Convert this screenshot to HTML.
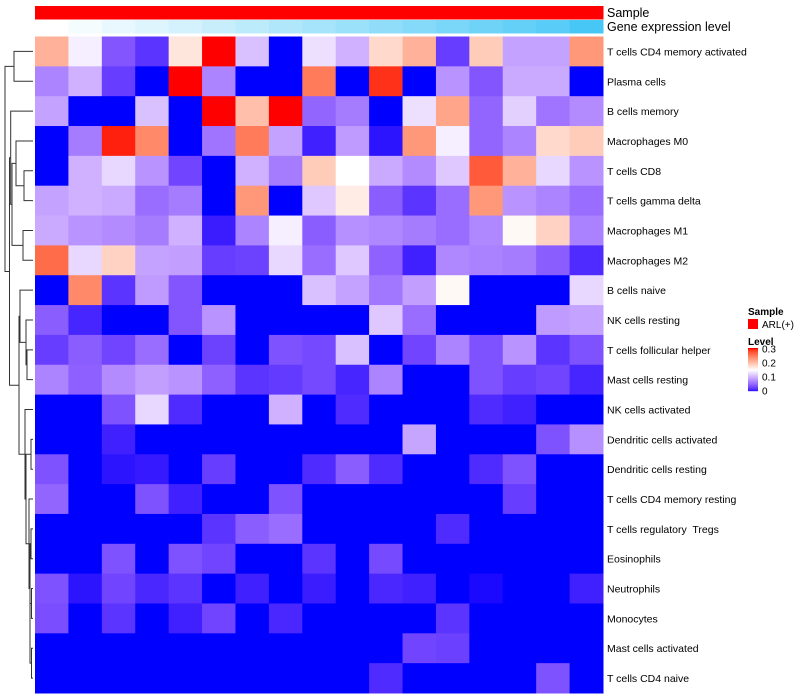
<!DOCTYPE html>
<html><head><meta charset="utf-8">
<style>
html,body{margin:0;padding:0;background:#fff;}
svg{display:block;font-family:"Liberation Sans",sans-serif;}
#rowlabels text{white-space:pre;}
</style></head>
<body>
<svg id="chart" width="800" height="700" viewBox="0 0 800 700" xmlns="http://www.w3.org/2000/svg">
  <g id="dendro"></g>
  <g id="annot"></g>
  <g id="cells"></g>
  <g id="rowlabels"></g>
  <text x="607" y="17" font-size="12.5" fill="#000">Sample</text>
  <text x="607" y="31" font-size="12.5" fill="#000">Gene expression level</text>
  <g>
    <text x="748" y="315" font-size="10" font-weight="bold">Sample</text>
    <rect x="748" y="319" width="10" height="10" fill="#ff0000"></rect>
    <text x="762" y="328" font-size="10">ARL(+)</text>
    <text x="748" y="345" font-size="10" font-weight="bold">Level</text>
    <g id="levelbar"></g>
  </g>
</svg>
<script>
const rowNames = ["T cells CD4 memory activated","Plasma cells","B cells memory","Macrophages M0","T cells CD8","T cells gamma delta","Macrophages M1","Macrophages M2","B cells naive","NK cells resting","T cells follicular helper","Mast cells resting","NK cells activated","Dendritic cells activated","Dendritic cells resting","T cells CD4 memory resting","T cells regulatory  Tregs","Eosinophils","Neutrophils","Monocytes","Mast cells activated","T cells CD4 naive"];
const values = [
 [0.21,0.14,0.04,0.02,0.17,0.30,0.11,0,0.13,0.10,0.18,0.21,0.025,0.19,0.09,0.09,0.23],
 [0.07,0.10,0.025,0,0.30,0.07,0,0,0.25,0,0.29,0,0.08,0.04,0.095,0.095,0],
 [0.09,0,0,0.11,0,0.30,0.20,0.30,0.05,0.065,0,0.13,0.22,0.05,0.12,0.06,0.075],
 [0,0.065,0.295,0.24,0,0.06,0.25,0.09,0.01,0.085,0.005,0.23,0.14,0.05,0.07,0.18,0.19],
 [0,0.10,0.125,0.08,0.03,0,0.10,0.065,0.19,0.15,0.095,0.075,0.115,0.27,0.21,0.125,0.08],
 [0.09,0.10,0.095,0.055,0.065,0,0.23,0,0.115,0.165,0.045,0.02,0.055,0.23,0.08,0.07,0.055],
 [0.095,0.08,0.075,0.065,0.10,0.008,0.07,0.14,0.045,0.078,0.072,0.065,0.055,0.072,0.155,0.185,0.068],
 [0.26,0.125,0.185,0.09,0.088,0.025,0.028,0.125,0.055,0.115,0.048,0.01,0.072,0.068,0.065,0.045,0.015],
 [0,0.24,0.02,0.085,0.04,0,0,0,0.11,0.09,0.062,0.088,0.155,0,0,0,0.125],
 [0.045,0.012,0,0,0.04,0.08,0,0,0,0,0.115,0.055,0,0,0,0.085,0.09],
 [0.025,0.045,0.03,0.055,0,0.028,0,0.038,0.032,0.11,0,0.03,0.07,0.038,0.08,0.02,0.038],
 [0.07,0.047,0.075,0.088,0.08,0.047,0.02,0.023,0.032,0.012,0.07,0,0,0.038,0.025,0.03,0.012],
 [0,0,0.038,0.125,0.015,0,0,0.10,0,0.015,0,0,0,0.015,0.01,0,0],
 [0,0,0.01,0,0,0,0,0,0,0,0,0.092,0,0,0,0.038,0.078],
 [0.038,0,0.005,0.007,0,0.025,0,0,0.015,0.045,0.015,0,0,0.015,0.038,0,0],
 [0.05,0,0,0.038,0.01,0,0,0.038,0,0,0,0,0,0,0.025,0,0],
 [0,0,0,0,0,0.02,0.045,0.055,0,0,0,0,0.015,0,0,0,0],
 [0,0,0.038,0,0.038,0.03,0,0,0.02,0,0.033,0,0,0,0,0,0],
 [0.038,0.005,0.03,0.013,0.02,0,0.01,0,0.008,0,0.013,0.01,0,0.002,0,0,0.01],
 [0.035,0,0.02,0,0.01,0.03,0,0.013,0,0,0,0,0.02,0,0,0,0],
 [0,0,0,0,0,0,0,0,0,0,0,0.03,0.027,0,0,0,0],
 [0,0,0,0,0,0,0,0,0,0,0.015,0,0,0,0,0.038,0]
];
const geneLevel = [0,0.06,0.12,0.18,0.24,0.3,0.36,0.42,0.48,0.54,0.6,0.66,0.72,0.78,0.84,0.9,1];
const legendTicks = [0,0.1,0.2,0.3];
const merges = [[0,1,14],[4,5,24],[3,-2,16],[6,7,23],[-3,-4,12],[2,-5,10.7],[10,11,27],[9,-7,26],[8,-8,20],[13,14,31],[16,17,31],[18,19,31.5],[20,21,31.5],[-12,-13,30],[-11,-14,30],[15,-15,29],[-10,-16,26],[12,-17,25],[-9,-18,19],[-6,-19,9.5],[-1,-20,5]];

const NS="http://www.w3.org/2000/svg";
const X0=35,X1=603,Y0=36.5,Y1=693;
const nC=values[0].length,nR=values.length;
const cw=(X1-X0)/nC,rh=(Y1-Y0)/nR;
const xCol=i=>X0+i*cw, yRow=j=>Y0+j*rh;
function el(t,a,p){const e=document.createElementNS(NS,t);for(const k in a)e.setAttribute(k,a[k]);p.appendChild(e);return e;}
function rgb2lab(r,g,b){const f=c=>{c/=255;return c>0.04045?Math.pow((c+0.055)/1.055,2.4):c/12.92;};
 r=f(r);g=f(g);b=f(b);let x=(r*0.4124+g*0.3576+b*0.1805)/0.95047,y=r*0.2126+g*0.7152+b*0.0722,z=(r*0.0193+g*0.1192+b*0.9505)/1.08883;
 const h=t=>t>0.008856?Math.cbrt(t):7.787*t+16/116;x=h(x);y=h(y);z=h(z);return [116*y-16,500*(x-y),200*(y-z)];}
function lab2rgb(L,a,bb){let y=(L+16)/116,x=a/500+y,z=y-bb/200;const h=t=>t*t*t>0.008856?t*t*t:(t-16/116)/7.787;
 x=h(x)*0.95047;y=h(y);z=h(z)*1.08883;let r=x*3.2406+y*-1.5372+z*-0.4986,g=x*-0.9689+y*1.8758+z*0.0415,b=x*0.0557+y*-0.2040+z*1.0570;
 const f=c=>{c=c>0.0031308?1.055*Math.pow(c,1/2.4)-0.055:12.92*c;return Math.max(0,Math.min(255,Math.round(c*255)));};return `rgb(${f(r)},${f(g)},${f(b)})`;}
const LB=rgb2lab(0,0,255),LW=rgb2lab(255,255,255),LR=rgb2lab(255,0,0);
function color(v){let t=Math.max(0,Math.min(1,v/0.3));let A,B,u;if(t<0.5){A=LB;B=LW;u=t/0.5;}else{A=LW;B=LR;u=(t-0.5)/0.5;}
 return lab2rgb(A[0]+(B[0]-A[0])*u,A[1]+(B[1]-A[1])*u,A[2]+(B[2]-A[2])*u);}

const cells=document.getElementById('cells');
values.forEach((row,j)=>row.forEach((v,i)=>{
  const r=el('rect',{x:xCol(i),y:yRow(j),width:cw+0.5,height:rh+0.5,fill:color(v)},cells);
  
  
}));
const annot=document.getElementById('annot');
geneLevel.forEach((g,i)=>{
  const s=el('rect',{x:xCol(i),y:6,width:cw+0.5,height:13.5,fill:'#ff0000'},annot);
  
  
  const c=`rgb(${Math.round(255-(255-70)*g)},${Math.round(255-(255-199)*g)},${Math.round(255-(255-246)*g)})`;
  const r=el('rect',{x:xCol(i),y:20,width:cw+0.5,height:13.5,fill:c},annot);
  
  
});
const rl=document.getElementById('rowlabels');
rowNames.forEach((n,j)=>{
  const t=el('text',{x:607,y:yRow(j)+rh/2+4,'font-size':10.5,fill:'#000'},rl);
  t.setAttributeNS('http://www.w3.org/XML/1998/namespace','xml:space','preserve');
  t.textContent=n;
  
  
});
const dg=document.getElementById('dendro');
const nodes=[];
function pos(k){return k>=0?{x:33,y:yRow(k)+rh/2}:nodes[-k-1];}
merges.forEach(m=>{
  const a=pos(m[0]),b=pos(m[1]),h=m[2];
  const p=el('path',{d:`M${a.x},${a.y}H${h}V${b.y}H${b.x}`,fill:'none',stroke:'#333','stroke-width':1},dg);
  
  
  nodes.push({x:h,y:(a.y+b.y)/2});
});
const lb=document.getElementById('levelbar');
const bTop=348,bBot=391;
for(let k=0;k<43;k++){
  const v=0.3*(1-k/43);
  const r=el('rect',{x:748,y:bTop+k,width:10,height:1.2,fill:color(v)},lb);
  
  
}
legendTicks.forEach(v=>{
  const y=bBot-(v/0.3)*(bBot-bTop-1);
  const t=el('text',{x:762,y:y+3.5,'font-size':10},lb);
  t.textContent=String(v);
  
  
});
</script>
</body></html>
